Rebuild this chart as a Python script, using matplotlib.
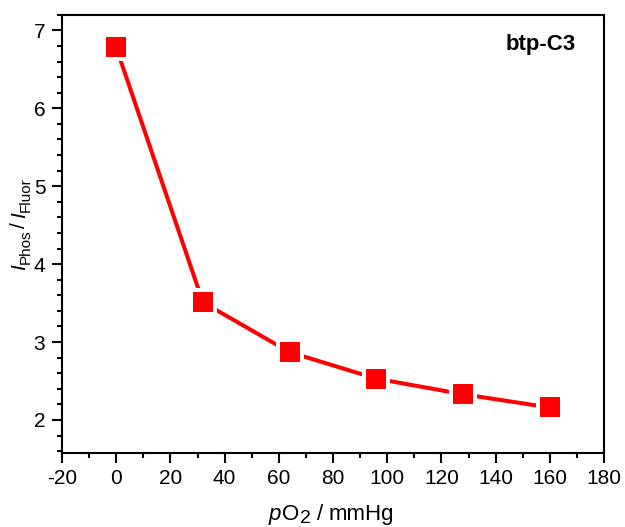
import matplotlib
matplotlib.use("Agg")
import matplotlib.pyplot as plt
from matplotlib.ticker import MultipleLocator
from matplotlib.transforms import IdentityTransform

plt.rcParams["font.family"] = ["Liberation Sans", "DejaVu Sans"]
plt.rcParams["axes.unicode_minus"] = False

# Oxygen partial pressure (mmHg) and phosphorescence / fluorescence ratio
po2 = [0, 32, 64, 96, 128, 160]
ratio = [6.78, 3.51, 2.87, 2.53, 2.33, 2.16]

x_ticks = [-20, 0, 20, 40, 60, 80, 100, 120, 140, 160, 180]
y_ticks = [2, 3, 4, 5, 6, 7]

W, H, DPI = 6.25, 5.27, 100
fig = plt.figure(figsize=(W, H), dpi=DPI)
ax = fig.add_axes([0.0992, 0.141, 0.8672, 0.831])

ax.plot(po2, ratio, color="#ff0000", lw=2.9, solid_capstyle="round",
        marker="s", ms=17.3, mfc="#ff0000", mec="white", mew=2.9, zorder=3)

ax.set_xlim(-20, 180)
ax.set_ylim(1.58, 7.2)
ax.set_xticks(x_ticks)
ax.set_yticks(y_ticks)
ax.xaxis.set_minor_locator(MultipleLocator(10))
ax.yaxis.set_minor_locator(MultipleLocator(0.2))

ax.tick_params(which="both", direction="out", width=1.5, labelsize=15,
               top=False, right=False)
ax.tick_params(which="major", length=7, pad=5)
ax.tick_params(which="minor", length=3.5)
for s in ax.spines.values():
    s.set_linewidth(1.5)

ax.text(0.884, 0.933, "btp-C3", transform=ax.transAxes, fontsize=16,
        fontweight="bold", ha="center", va="center")


def rich_label(pieces, center, baseline, vertical=False):
    """Lay out text runs (text, size, style, baseline shift in pt, gap after
    in px) along a common baseline, centred on `center` (pixels)."""
    renderer = fig.canvas.get_renderer()
    rot = 90 if vertical else 0
    items = []
    for s, size, style, shift, gap in pieces:
        t = fig.text(0, 0, s, fontsize=size, fontstyle=style,
                     transform=IdentityTransform(), rotation=rot,
                     rotation_mode="anchor", ha="left", va="baseline")
        bb = t.get_window_extent(renderer)
        items.append((t, (bb.height if vertical else bb.width) + gap,
                      shift * DPI / 72.0))
    total = sum(w for _, w, _ in items)
    pos = center - total / 2.0
    for t, w, shift in items:
        if vertical:
            t.set_position((baseline + shift, pos))
        else:
            t.set_position((pos, baseline - shift))
        pos += w


H_PX = H * DPI
rich_label([("p", 16, "italic", 0, 1), ("O", 16, "normal", 0, 1),
            ("2", 14, "normal", 2.4, 6), ("/", 16, "normal", 0, 5),
            ("mmHg", 16, "normal", 0, 0)],
           center=331, baseline=H_PX - 520)
rich_label([("I", 15, "italic", 0, 0), ("Phos", 11, "normal", 3.6, 2),
            ("/", 15, "normal", 0, 4), ("I", 15, "italic", 0, 0),
            ("Fluor", 11, "normal", 3.6, 0)],
           center=H_PX - 224, baseline=25, vertical=True)

fig.savefig("out.png", dpi=DPI)
